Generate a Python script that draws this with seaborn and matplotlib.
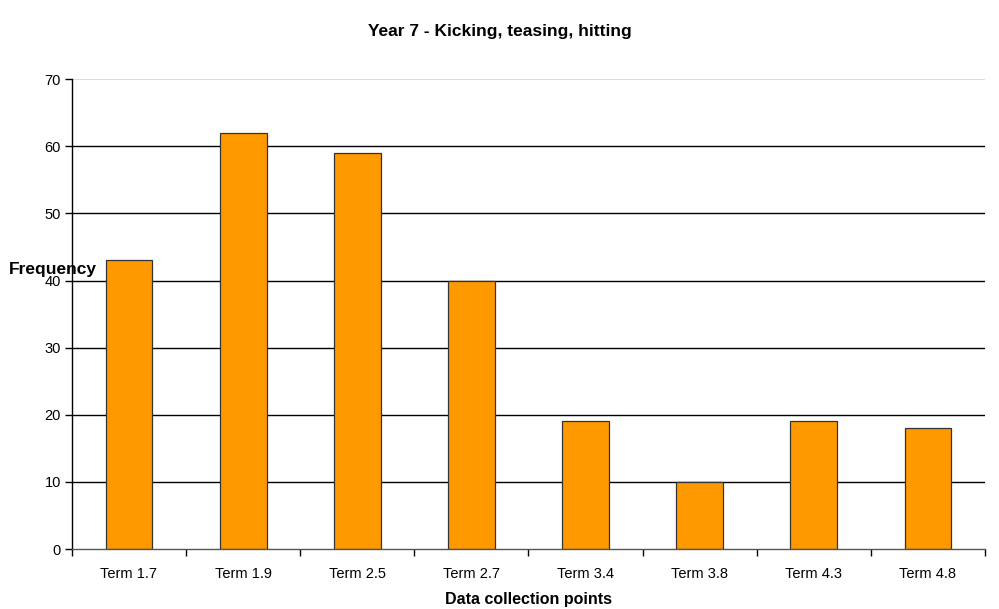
import matplotlib
matplotlib.use("Agg")
import matplotlib.pyplot as plt
import seaborn as sns
import pandas as pd
import numpy as np

terms = ['Term 1.7', 'Term 1.9', 'Term 2.5', 'Term 2.7', 'Term 3.4', 'Term 3.8', 'Term 4.3', 'Term 4.8']
frequency = [43, 62, 59, 40, 19, 10, 19, 18]

sns.set_style('white')
plt.rcParams['font.family'] = ['Liberation Sans', 'DejaVu Sans']
plt.rcParams['text.color'] = 'black'
plt.rcParams['xtick.color'] = 'black'
plt.rcParams['ytick.color'] = 'black'
plt.rcParams['axes.labelcolor'] = 'black'

df = pd.DataFrame({'Term': terms, 'Frequency': frequency})

fig = plt.figure(figsize=(9.99, 6.09), dpi=100)
ax = fig.add_axes([0.072, 0.0985, 0.914, 0.7715])

# gridlines first, behind the bars
for v in range(10, 70, 10):
    ax.axhline(v, color='black', lw=1.0, zorder=0)
ax.axhline(70, color='#d8d8c8', lw=1.2, zorder=0)

sns.barplot(data=df, x='Term', y='Frequency', color='#FF9900', width=0.41,
            edgecolor='#333333', linewidth=0.9, saturation=1, ax=ax, zorder=2)

ax.set_ylim(0, 70)
ax.set_xlim(-0.5, len(terms) - 0.5)
ax.set_yticks(range(0, 71, 10))
ax.tick_params(axis='y', length=5, width=1, labelsize=10.5, pad=3, left=True)
ax.tick_params(axis='x', which='major', length=0, labelsize=10.5, pad=13)
ax.set_xticks(np.arange(-0.5, len(terms), 1), minor=True)
ax.tick_params(axis='x', which='minor', length=5, width=1, bottom=True)

for s in ['top', 'right']:
    ax.spines[s].set_visible(False)
ax.spines['left'].set_color('black')
ax.spines['bottom'].set_color('#555555')
ax.spines['left'].set_linewidth(1)
ax.spines['bottom'].set_linewidth(1)

ax.set_xlabel('Data collection points', fontsize=11.5, fontweight='bold', labelpad=8)
ax.set_ylabel('')
fig.text(0.009, 0.558, 'Frequency', fontsize=12.5, fontweight='bold', ha='left', va='center')
fig.text(0.5, 0.948, 'Year 7 - Kicking, teasing, hitting', fontsize=12.5, fontweight='bold',
         ha='center', va='center')

fig.savefig('out.png', dpi=100)
